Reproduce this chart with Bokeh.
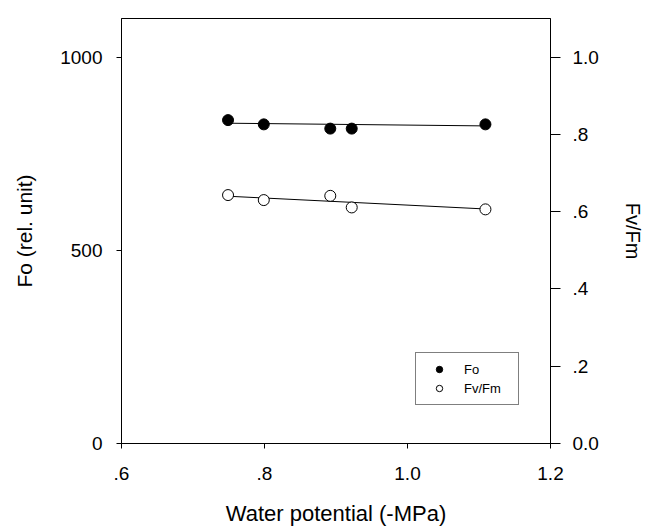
from bokeh.plotting import figure
from bokeh.models import (Range1d, LinearAxis, FixedTicker, CustomJSTickFormatter,
                          Legend, LegendItem, ColumnDataSource)
from bokeh.embed import file_html
from bokeh.resources import INLINE

# Data
water_potential = [0.749, 0.799, 0.892, 0.922, 1.109]
fo_values = [837, 826, 815, 815, 826]
fvfm_values = [0.643, 0.630, 0.641, 0.611, 0.606]

fit_x = [0.749, 1.109]
fo_fit = [829, 822]
fvfm_fit = [0.640, 0.607]

x_ticks = [0.6, 0.8, 1.0, 1.2]
fo_ticks = [0, 500, 1000]
fvfm_ticks = [0.0, 0.2, 0.4, 0.6, 0.8, 1.0]

FONT = "Liberation Sans"

p = figure(width=646, height=529, output_backend="svg", toolbar_location=None,
           x_range=Range1d(0.6, 1.2), y_range=Range1d(0, 1100))
p.extra_y_ranges = {"fv": Range1d(0, 1.1)}
p.min_border_left = 121
p.min_border_right = 95
p.min_border_top = 18
p.min_border_bottom = 86
p.xgrid.visible = False
p.ygrid.visible = False
p.outline_line_color = "black"
p.outline_line_width = 1
p.background_fill_color = "white"
p.border_fill_color = "white"

fmt = CustomJSTickFormatter(code="""
if (Math.abs(tick) < 1e-9) return "0.0";
var s = tick.toFixed(1);
if (tick < 1 - 1e-9) s = s.replace(/^0/, "");
return s;
""")

def style(ax, out):
    ax.axis_line_color = "black"
    ax.major_tick_line_color = "black"
    ax.major_tick_in = 0
    ax.major_tick_out = out
    ax.minor_tick_line_color = None
    ax.major_label_text_font = FONT
    ax.major_label_text_font_size = "19px"
    ax.major_label_text_color = "black"
    ax.axis_label_text_font = FONT
    ax.axis_label_text_font_size = "21px"
    ax.axis_label_text_font_style = "normal"
    ax.axis_label_text_color = "black"

xa = p.xaxis[0]
xa.ticker = FixedTicker(ticks=x_ticks)
xa.formatter = fmt
xa.axis_label = "Water potential (-MPa)"
style(xa, 5)
xa.axis_label_text_font_size = "22px"
xa.major_label_standoff = 18
xa.axis_label_standoff = 18

ya = p.yaxis[0]
ya.ticker = FixedTicker(ticks=fo_ticks)
ya.axis_label = "Fo (rel. unit)"
style(ya, 5)
ya.major_label_standoff = 14
ya.axis_label_standoff = 21

ra = LinearAxis(y_range_name="fv", ticker=FixedTicker(ticks=fvfm_ticks), formatter=fmt,
                axis_label="Fv/Fm")
style(ra, 10)
ra.axis_label_text_font_size = "20px"
ra.major_label_standoff = 12
ra.axis_label_standoff = 20
p.add_layout(ra, "right")

src = ColumnDataSource(dict(x=water_potential, fo=fo_values, fv=fvfm_values))

p.line(fit_x, fo_fit, line_color="black", line_width=1)
p.line(fit_x, fvfm_fit, line_color="black", line_width=1, y_range_name="fv")

r_fo = p.scatter("x", "fo", source=src, marker="circle", size=11,
                 fill_color="black", line_color="black")
r_fv = p.scatter("x", "fv", source=src, marker="circle", size=11,
                 fill_color="white", line_color="black", line_width=1, y_range_name="fv")

legend = Legend(items=[LegendItem(label="Fo", renderers=[r_fo]),
                       LegendItem(label="Fv/Fm", renderers=[r_fv])],
                location=(294, 38))
legend.border_line_color = "black"
legend.border_line_width = 1
legend.background_fill_color = "white"
legend.background_fill_alpha = 1
legend.label_text_font = FONT
legend.label_text_font_size = "13px"
legend.label_text_color = "black"
legend.padding = 8
legend.spacing = 3
legend.margin = 0
legend.glyph_width = 30
legend.glyph_height = 16
legend.label_standoff = 10
legend.label_height = 16
legend.label_width = 46
p.add_layout(legend, "center")

open("out.html", "w").write(file_html(p, INLINE))
